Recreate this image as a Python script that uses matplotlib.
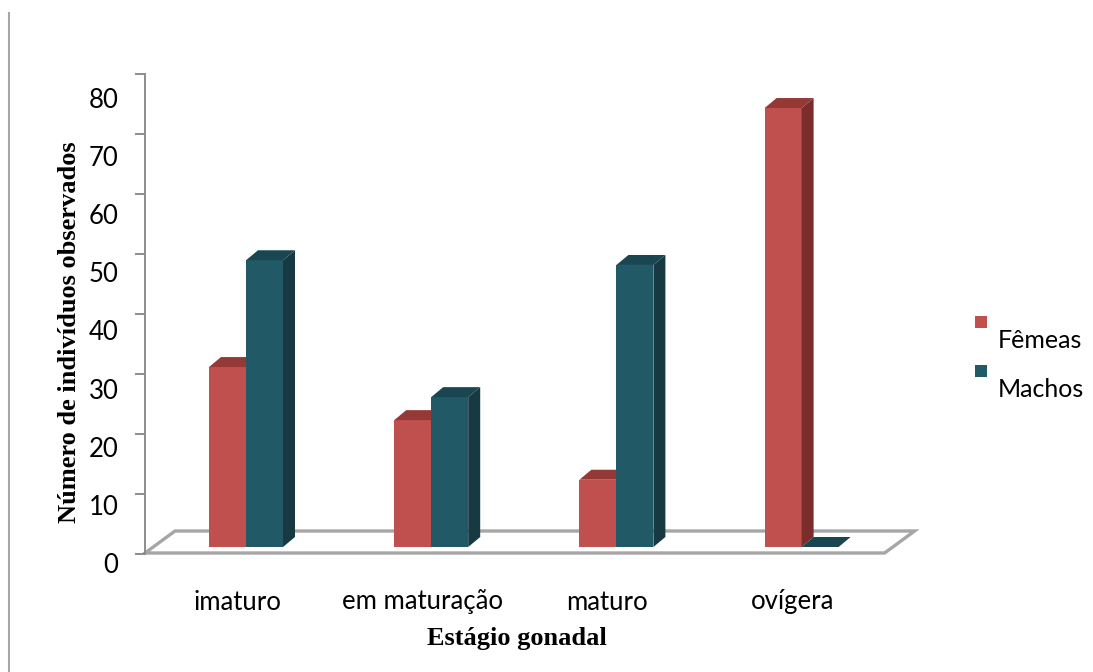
import matplotlib
matplotlib.use("Agg")
import matplotlib.pyplot as plt
from matplotlib.patches import Polygon, Rectangle
from matplotlib.lines import Line2D

# ---- data ----
categories = ["imaturo", "em maturação", "maturo", "ovígera"]
femeas = [30.5, 21.5, 11.4, 74.4]
machos = [48.6, 25.4, 47.8, 0.0]
series_names = ["Fêmeas", "Machos"]
y_ticks = [0, 10, 20, 30, 40, 50, 60, 70, 80]

# ---- colours (front, top, side) ----
red = ("#C0504D", "#953936", "#7B2D2B")
teal = ("#215967", "#1A4652", "#163942")
grid_grey = "#A6A6A6"
sans = ["Lato", "DejaVu Sans"]
serif = ["Liberation Serif", "DejaVu Serif"]

W, H = 1093, 672
fig = plt.figure(figsize=(W / 100, H / 100), dpi=100)

# layout of the plotting area (pixels)
px_per_cat = 185.2      # distance between category slots
px_per_unit = 5.9       # vertical pixels per individual
x0_px, y0_px = 246, 547

ax = fig.add_axes([0, 0, 1, 1])
ax.set_xlim(-x0_px / px_per_cat, (W - x0_px) / px_per_cat)
ax.set_ylim(-(H - y0_px) / px_per_unit, y0_px / px_per_unit)
ax.axis("off")

def dx(px):
    return px / px_per_cat

def dy(px):
    return px / px_per_unit

bar_w = dx(37)
depth_x, depth_y = dx(12), dy(10)

# ---- floor ----
n = len(categories)
fl_left, fl_right = -dx(101), (n - 1) + dx(83)
fl_front, fl_back = -dy(6), dy(16)
fl_dx = dx(30)
floor = Polygon([(fl_left, fl_front), (fl_right, fl_front),
                 (fl_right + fl_dx, fl_back), (fl_left + fl_dx, fl_back)],
                closed=True, fill=True, facecolor="white",
                edgecolor=grid_grey, lw=2.4, zorder=1)
ax.add_patch(floor)

# ---- 3D-looking bars ----
def bar3d(xl, v, cols, z):
    xr = xl + bar_w
    ax.bar(xl, v, width=bar_w, align="edge", color=cols[0], lw=0, zorder=z)
    side = Polygon([(xr, 0), (xr + depth_x, depth_y),
                    (xr + depth_x, v + depth_y), (xr, v)],
                   closed=True, facecolor=cols[2], lw=0, zorder=z)
    top = Polygon([(xl, v), (xl + depth_x, v + depth_y),
                   (xr + depth_x, v + depth_y), (xr, v)],
                  closed=True, facecolor=cols[1], lw=0, zorder=z)
    ax.add_patch(side)
    ax.add_patch(top)

for i, (f, m) in enumerate(zip(femeas, machos)):
    bar3d(i - bar_w, f, red, 2 + 2 * i)
    bar3d(i, m, teal, 3 + 2 * i)

# ---- category labels ----
cat_y = (y0_px - 602) / px_per_unit
for i, c in enumerate(categories):
    ax.text(i - dx(9), cat_y, c, ha="center", va="center",
            fontsize=18.5, family=sans, color="black")

# ---- value axis line and ticks ----
ax_y = fig.add_axes([145 / W, (H - 554) / H, 0.0001, 480 / H])
ax_y.set_ylim(0, 80)
ax_y.set_yticks(y_ticks)
ax_y.tick_params(axis="y", direction="out", length=7.2, width=1.4,
                 color="#8C8C8C", labelleft=False)
ax_y.set_xticks([])
for s in ["top", "right", "bottom"]:
    ax_y.spines[s].set_visible(False)
ax_y.spines["left"].set_color("#8C8C8C")
ax_y.spines["left"].set_linewidth(1.4)
ax_y.patch.set_visible(False)

# tick labels sit on the front plane, slightly lower than the ticks
ax_l = fig.add_axes([145 / W, (H - 563) / H, 0.0001, 465 / H])
ax_l.set_ylim(0, 80)
ax_l.set_yticks(y_ticks)
ax_l.set_yticklabels([str(t) for t in y_ticks], fontsize=18.5, family=sans)
ax_l.tick_params(axis="y", length=0, pad=19)
ax_l.set_xticks([])
for s in ax_l.spines.values():
    s.set_visible(False)
ax_l.patch.set_visible(False)

# ---- axis titles ----
fig.text(70 / W, 1 - 332 / H, "Número de indivíduos observados", rotation=90,
         ha="center", va="center", fontsize=19, fontweight="bold", family=serif)
fig.text(517 / W, 1 - 638 / H, "Estágio gonadal", ha="center", va="center",
         fontsize=19, fontweight="bold", family=serif)

# ---- legend ----
for k, (name, cols) in enumerate(zip(series_names, [red, teal])):
    top_px = 316 + 49 * k
    fig.add_artist(Rectangle((975 / W, 1 - (top_px + 12) / H), 12 / W, 12 / H,
                             transform=fig.transFigure, color=cols[0], lw=0))
    fig.text(998 / W, 1 - (top_px + 24) / H, name, ha="left", va="center",
             fontsize=18, family=sans)

# ---- chart frame edge ----
fig.add_artist(Line2D([9 / W, 9 / W], [0, 1 - 13 / H], transform=fig.transFigure,
                      color=grid_grey, lw=1.5))

fig.savefig("out.png", dpi=100, facecolor="white")
